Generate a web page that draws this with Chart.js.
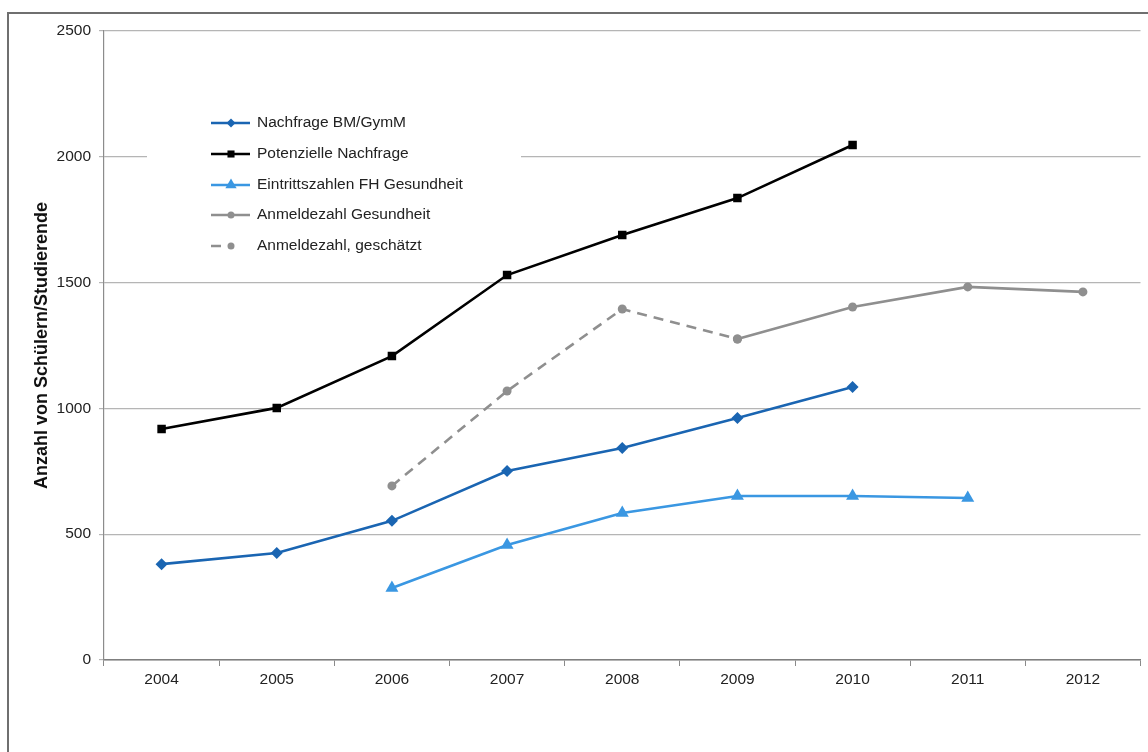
<!DOCTYPE html>
<html>
<head>
<meta charset="utf-8">
<script src="https://cdn.jsdelivr.net/npm/chart.js@4/dist/chart.umd.min.js"></script>
<style>
  html, body { margin: 0; padding: 0; background: #fff; }
  canvas { display: block; }
</style>
</head>
<body>
<canvas id="chart" width="1148" height="752"></canvas>
<script>
// ─────────────────────────────────────────────
// Daten
// ─────────────────────────────────────────────
const years = ['2004', '2005', '2006', '2007', '2008', '2009', '2010', '2011', '2012'];

const nachfrageBM   = [381, 425, 553, 751, 843, 962, 1085, null, null];
const potenzielle   = [918, 1002, 1208, 1530, 1689, 1836, 2047, null, null];
const eintritte     = [null, null, 286, 457, 584, 652, 652, 644, null];
const anmeldezahl   = [null, null, null, null, null, 1276, 1403, 1483, 1463];
const anmeldeSchatz = [null, null, 692, 1069, 1395, 1276, null, null, null];

const yTicks = [0, 500, 1000, 1500, 2000, 2500];

const FONT = '"Liberation Sans", Arial, sans-serif';

// ─────────────────────────────────────────────
// Rahmen + Legende (im Diagramm platziert)
// ─────────────────────────────────────────────
function marker(ctx, style, x, y, r) {
  ctx.beginPath();
  if (style === 'rectRot') {
    ctx.moveTo(x, y - r); ctx.lineTo(x + r, y); ctx.lineTo(x, y + r); ctx.lineTo(x - r, y);
  } else if (style === 'rect') {
    const s = r * Math.SQRT1_2;
    ctx.rect(x - s, y - s, 2 * s, 2 * s);
  } else if (style === 'triangle') {
    ctx.moveTo(x, y - r);
    ctx.lineTo(x + r * 0.866, y + r * 0.5);
    ctx.lineTo(x - r * 0.866, y + r * 0.5);
  } else {
    ctx.arc(x, y, r, 0, Math.PI * 2);
  }
  ctx.closePath();
  ctx.fill();
}

const framePlugin = {
  id: 'frame',
  beforeDraw(chart) {
    const ctx = chart.ctx;
    ctx.save();
    ctx.strokeStyle = '#6f6f6f';
    ctx.lineWidth = 2;
    ctx.beginPath();
    ctx.moveTo(8, 760);
    ctx.lineTo(8, 13);
    ctx.lineTo(1160, 13);
    ctx.stroke();
    ctx.restore();
  }
};

const legendPlugin = {
  id: 'innerLegend',
  beforeDatasetsDraw(chart) {
    const ctx = chart.ctx;
    ctx.save();
    ctx.fillStyle = '#ffffff';
    ctx.fillRect(147, 102, 374, 160);
    const rows = [123, 154, 185, 215, 246];
    const legendR = [4.5, 5, 6.5, 3.5, 3.5];
    chart.data.datasets.forEach((ds, i) => {
      const y = rows[i];
      ctx.strokeStyle = ds.borderColor;
      ctx.lineWidth = 2.5;
      ctx.beginPath();
      if (ds.borderDash) {
        ctx.moveTo(211, y); ctx.lineTo(221, y);
      } else {
        ctx.moveTo(211, y); ctx.lineTo(250, y);
      }
      ctx.stroke();
      ctx.fillStyle = ds.pointBackgroundColor;
      marker(ctx, ds.pointStyle, 231, y, legendR[i]);
      ctx.fillStyle = '#222';
      ctx.font = '15.5px ' + FONT;
      ctx.textBaseline = 'middle';
      ctx.textAlign = 'left';
      ctx.fillText(ds.label, 257, y);
    });
    ctx.restore();
  }
};

// ─────────────────────────────────────────────
// Diagramm
// ─────────────────────────────────────────────
const DARK_BLUE  = '#1a65b2';
const LIGHT_BLUE = '#3a97e2';
const GREY       = '#8f8f8f';

function series(label, data, color, style, radius, dash) {
  const ds = {
    label,
    data,
    borderColor: color,
    backgroundColor: color,
    pointBackgroundColor: color,
    pointBorderColor: color,
    pointBorderWidth: 0,
    pointStyle: style,
    pointRadius: radius,
    borderWidth: 2.6,
    spanGaps: false,
    fill: false,
    tension: 0,
  };
  if (dash) ds.borderDash = dash;
  return ds;
}

new Chart(document.getElementById('chart'), {
  type: 'line',
  data: {
    labels: years,
    datasets: [
      series('Nachfrage BM/GymM', nachfrageBM, DARK_BLUE, 'rectRot', 6),
      series('Potenzielle Nachfrage', potenzielle, '#000000', 'rect', 6),
      series('Eintrittszahlen FH Gesundheit', eintritte, LIGHT_BLUE, 'triangle', 7.5),
      series('Anmeldezahl Gesundheit', anmeldezahl, GREY, 'circle', 4.5),
      series('Anmeldezahl, geschätzt', anmeldeSchatz, GREY, 'circle', 4.5, [10, 7]),
    ]
  },
  options: {
    responsive: false,
    animation: false,
    devicePixelRatio: 1,
    layout: { padding: { left: 27, top: 31, right: 6, bottom: 52 } },
    plugins: {
      legend: { display: false },
      tooltip: { enabled: false },
    },
    scales: {
      x: {
        offset: true,
        grid: {
          offset: true,
          drawOnChartArea: false,
          drawTicks: true,
          tickLength: 6,
          color: '#8a8a8a',
        },
        border: { display: true, color: '#7f7f7f', width: 1.5 },
        ticks: {
          color: '#222',
          font: { family: FONT, size: 15.5 },
          padding: 4,
        },
        afterFit(scale) { scale.height = 40; },
      },
      y: {
        min: 0,
        max: 2500,
        afterBuildTicks(scale) { scale.ticks = yTicks.map(v => ({ value: v })); },
        grid: {
          color: '#b5b5b5',
          lineWidth: 1.2,
          drawTicks: true,
          tickLength: 5,
        },
        border: { display: true, color: '#8c8c8c', width: 1.2 },
        ticks: {
          color: '#222',
          font: { family: FONT, size: 15.5 },
          padding: 8,
          callback: v => String(v),
        },
        title: {
          display: true,
          text: 'Anzahl von Schülern/Studierende',
          color: '#111',
          font: { family: FONT, size: 18, weight: 'bold' },
          padding: 4,
        },
        afterFit(scale) { scale.width = 77; },
      }
    }
  },
  plugins: [framePlugin, legendPlugin]
});
</script>
</body>
</html>
